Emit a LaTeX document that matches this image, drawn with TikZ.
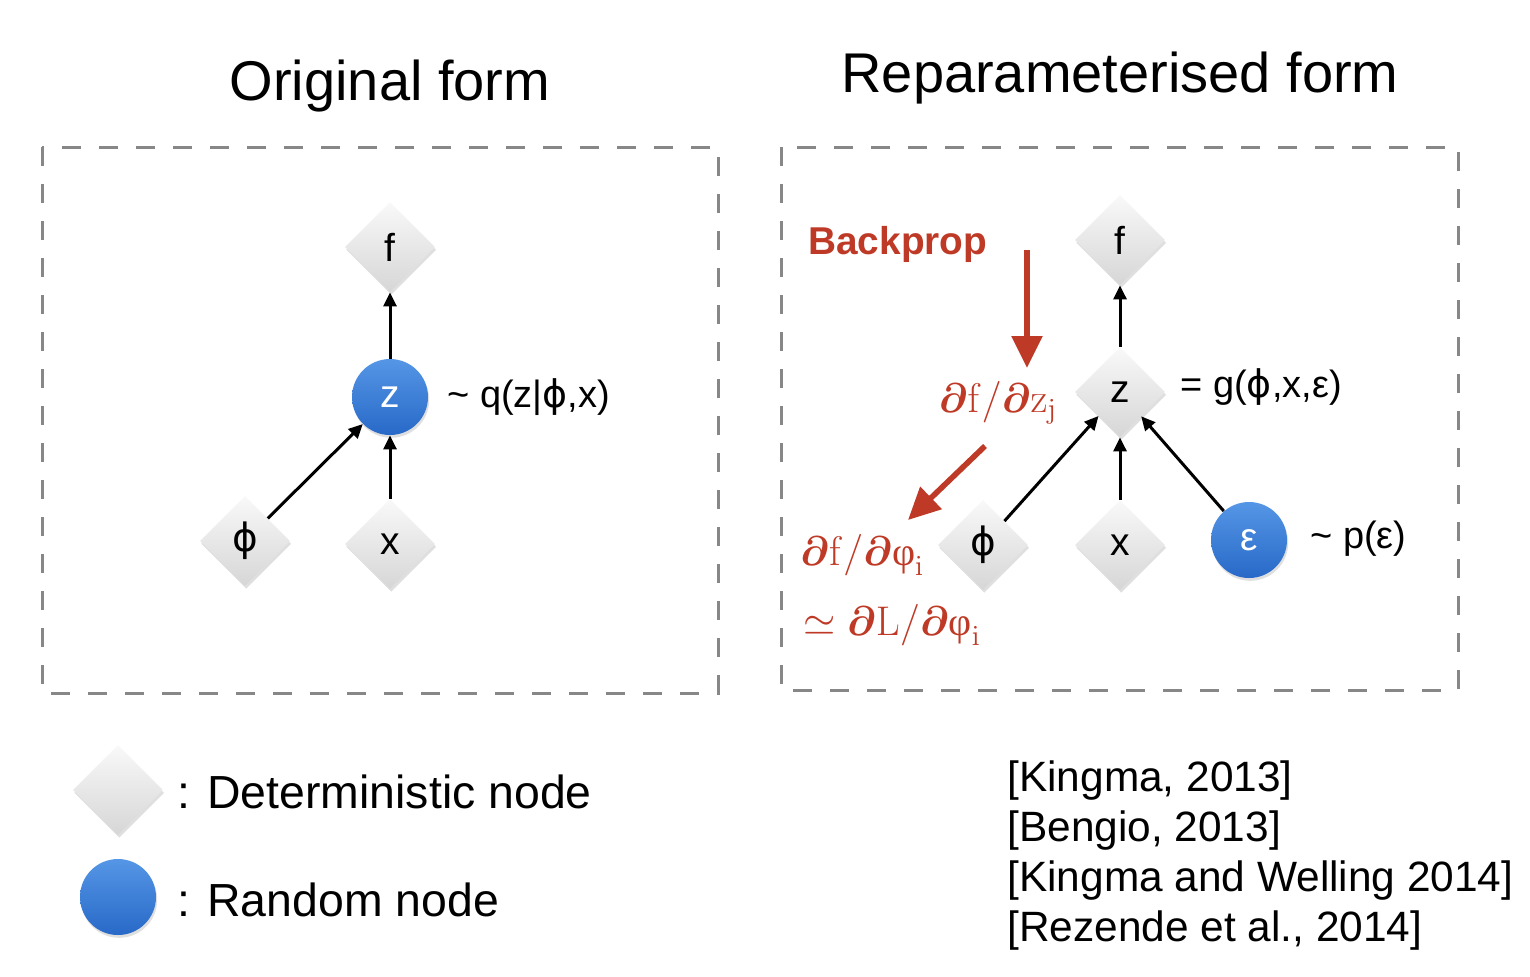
\documentclass[tikz,border=0pt]{standalone}
\usepackage{amsmath,bm}
\usepackage[no-math]{fontspec}
\setmainfont{Liberation Sans}
\newfontfamily\grk{Liberation Serif}
\newfontfamily\dvs{DejaVu Sans}
\usetikzlibrary{shapes.geometric,arrows.meta,shadows}
\definecolor{bpred}{RGB}{190,58,38}
\definecolor{boxgray}{RGB}{135,135,135}
\definecolor{blueT}{RGB}{85,150,230}
\definecolor{blueB}{RGB}{40,105,200}
\newcommand{\sphi}{{\dvs ϕ}}
\tikzset{
  det/.style={shape=diamond, minimum width=45pt, minimum height=45pt, inner sep=0pt,
    top color=gray!5, bottom color=gray!32, draw=none,
    drop shadow={opacity=0.25, shadow xshift=0.6pt, shadow yshift=-1.4pt},
    font=\fontsize{19.5}{22}\selectfont},
  rnd/.style={shape=circle, minimum size=38pt, inner sep=0pt,
    top color=blueT, bottom color=blueB, draw=none, text=white,
    drop shadow={opacity=0.25, shadow xshift=0.6pt, shadow yshift=-1.4pt},
    font=\fontsize{19.5}{22}\selectfont},
  arr/.style={line width=1.5pt, -{Triangle[length=7pt,width=6.5pt]}},
  redarr/.style={line width=2.8pt, draw=bpred, -{Triangle[length=16pt,width=15pt]}},
  dashbox/.style={draw=boxgray, line width=1.5pt, dash pattern=on 9.5pt off 9pt},
  lbl/.style={anchor=west, inner sep=0pt, font=\fontsize{19}{22}\selectfont},
  title/.style={font=\fontsize{28}{32}\selectfont, inner sep=0pt},
  mlbl/.style={text=bpred, inner sep=0pt, font=\fontsize{20}{24}\selectfont},
  leg/.style={anchor=west, inner sep=0pt, font=\fontsize{23.2}{28}\selectfont},
  cite/.style={anchor=west, inner sep=0pt, font=\fontsize{21.2}{25}\selectfont},
}
\begin{document}
\begin{tikzpicture}[x=0.5pt,y=-0.5pt]
\useasboundingbox (0,0) rectangle (1530,976);
% titles
\node[title] (t1) at (390,86) {Original form};
\node[title] (t2) at (1120,78) {Reparameterised form};
% boxes
\draw[dashbox] (42,147) rectangle (718,693);
\draw[dashbox] (781,147) rectangle (1458,690);
% left graph
\node[det] (fL) at (390,247) {f};
\node[rnd] (zL) at (390,397) {z};
\node[det] (pL) at (245,541) {\sphi};
\node[det] (xL) at (390,544) {x};
\draw[arr] (zL) -- (fL);
\draw[arr] (pL) -- (zL);
\draw[arr] (xL) -- (zL);
\node[lbl] (qL) at (447,397) {\textasciitilde{} q(z|\sphi,x)};
% right graph
\node[det] (fR) at (1120,240) {f};
\node[det] (zR) at (1120,392) {z};
\node[det] (pR) at (983,545) {\sphi};
\node[det] (xR) at (1120,545) {x};
\node[rnd] (eR) at (1249,540) {ε};
\draw[arr] (zR) -- (fR);
\draw[arr] (pR) -- (zR);
\draw[arr] (xR) -- (zR);
\draw[arr] (eR) -- (zR);
\node[lbl] (gR) at (1180,387) {= g(\sphi,x,ε)};
\node[lbl] (pe) at (1310,539) {\textasciitilde{} p(ε)};
% backprop
\node[anchor=west, inner sep=0pt, text=bpred, font=\fontsize{19.4}{22}\selectfont\bfseries] (bp) at (808,244) {Backprop};
\coordinate (a1s) at (1027,250);
\coordinate (a1e) at (1027,368);
\draw[redarr] (a1s) -- (a1e);
\node[mlbl] (dz) at (998,403) {$\bm{\partial}\mathrm{f}/\bm{\partial}\mathrm{z}_{\mathrm{j}}$};
\coordinate (a2s) at (985,446);
\coordinate (a2e) at (908,520);
\draw[redarr] (a2s) -- (a2e);
\node[mlbl, anchor=west] (dphi) at (800,555) {$\bm{\partial}\mathrm{f}/\bm{\partial}\text{\grk φ}_{\mathrm{i}}$};
\node[mlbl, anchor=west] (dL) at (803,625) {$\simeq\bm{\partial}\mathrm{L}/\bm{\partial}\text{\grk φ}_{\mathrm{i}}$};
% legend
\node[det] (legD) at (118,790) {};
\node[leg] (legDt) at (177,792) {: Deterministic node};
\node[rnd] (legR) at (118,897) {};
\node[leg] (legRt) at (177,900) {: Random node};
% citations
\node[cite] (c1) at (1007,781) {[Kingma, 2013]};
\node[cite] (c2) at (1007,831) {[Bengio, 2013]};
\node[cite] (c3) at (1007,881) {[Kingma and Welling 2014]};
\node[cite] (c4) at (1007,931) {[Rezende et al., 2014]};
\end{tikzpicture}
\end{document}
